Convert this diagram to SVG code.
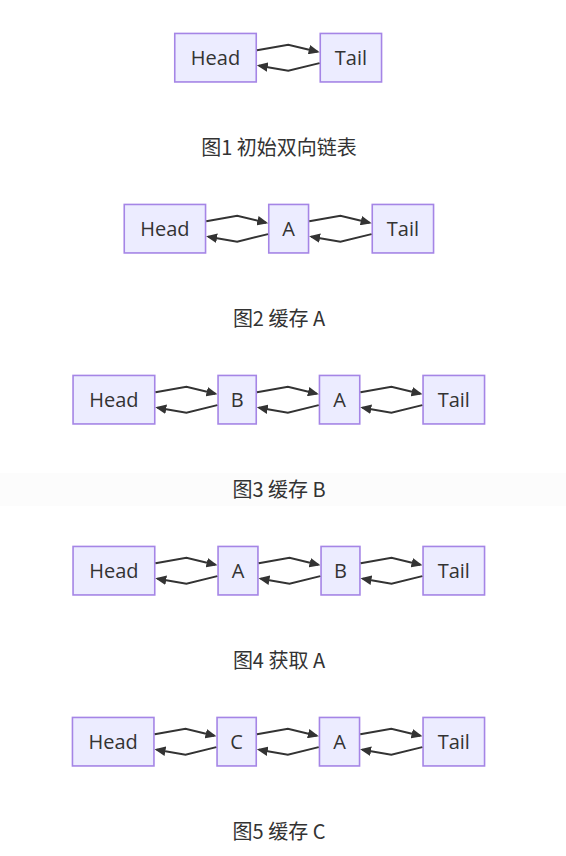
<svg xmlns="http://www.w3.org/2000/svg" width="566" height="856" viewBox="0 0 566 856">
<style>
.node rect{fill:#ECECFF;stroke:#a585e6;stroke-width:1.6}
.node text{font-family:"Open Sans","Noto Sans",sans-serif;font-size:20px;fill:#333;text-anchor:middle}
.edges path{fill:none;stroke:#333;stroke-width:2;marker-end:url(#ah)}
.cap{font-family:"Noto Sans CJK SC","Noto Sans",sans-serif;font-size:20px;fill:#333;text-anchor:middle}
</style>
<defs>
<marker id="ah" viewBox="0 0 10 10" refX="8" refY="5" markerWidth="11" markerHeight="9.5" markerUnits="userSpaceOnUse" orient="auto" preserveAspectRatio="none"><path d="M0,0 L10,5 L0,10 z" fill="#333"/></marker>
</defs>
<rect x="0" y="473" width="566" height="33" fill="#fcfcfc"/>

<!-- Diagram 1 -->
<g id="d1-head" class="node"><rect x="174.75" y="33.45" width="81.5" height="48.5"/><text x="215.5" y="64.7">Head</text></g>
<g id="d1-tail" class="node"><rect x="320.25" y="33.45" width="61.3" height="48.5"/><text x="350.9" y="64.7">Tail</text></g>
<g id="d1-edges" class="edges">
<path d="M257,50.3 L288.25,44.7 L317.5,51.8"/>
<path d="M319.5,63.1 L288.25,70.7 L259,65.7"/>
</g>
<text class="cap" x="279" y="155">图1 初始双向链表</text>

<!-- Diagram 2 -->
<g id="d2-head" class="node"><rect x="124.25" y="204.45" width="81.3" height="48.5"/><text x="164.9" y="235.7">Head</text></g>
<g id="d2-a" class="node"><rect x="268.75" y="204.45" width="39.8" height="48.5"/><text x="288.65" y="235.7">A</text></g>
<g id="d2-tail" class="node"><rect x="372.25" y="204.45" width="61.3" height="48.5"/><text x="402.9" y="235.7">Tail</text></g>
<g id="d2-edges" class="edges">
<path d="M206.3,221.3 L237.2,215.7 L266,222.8"/>
<path d="M268,234.1 L237.2,241.7 L208.3,236.7"/>
<path d="M309.3,221.3 L340.4,215.7 L369.5,222.8"/>
<path d="M371.5,234.1 L340.4,241.7 L311.3,236.7"/>
</g>
<text class="cap" x="279" y="326">图2 缓存 A</text>

<!-- Diagram 3 -->
<g id="d3-head" class="node"><rect x="73.05" y="375.45" width="81.7" height="48.5"/><text x="113.9" y="406.7">Head</text></g>
<g id="d3-b" class="node"><rect x="218.05" y="375.45" width="38.2" height="48.5"/><text x="237.15" y="406.7">B</text></g>
<g id="d3-a" class="node"><rect x="319.45" y="375.45" width="40.3" height="48.5"/><text x="339.6" y="406.7">A</text></g>
<g id="d3-tail" class="node"><rect x="423.05" y="375.45" width="61.5" height="48.5"/><text x="453.8" y="406.7">Tail</text></g>
<g id="d3-edges" class="edges">
<path d="M155.5,392.3 L186.4,386.7 L215.3,393.8"/>
<path d="M217.3,405.1 L186.4,412.7 L157.5,407.7"/>
<path d="M257,392.3 L287.9,386.7 L316.7,393.8"/>
<path d="M318.7,405.1 L287.9,412.7 L259,407.7"/>
<path d="M360.5,392.3 L391.4,386.7 L420.3,393.8"/>
<path d="M422.3,405.1 L391.4,412.7 L362.5,407.7"/>
</g>
<text class="cap" x="279" y="497">图3 缓存 B</text>

<!-- Diagram 4 -->
<g id="d4-head" class="node"><rect x="73.05" y="546.45" width="81.7" height="48.5"/><text x="113.9" y="577.7">Head</text></g>
<g id="d4-a" class="node"><rect x="218.05" y="546.45" width="39.9" height="48.5"/><text x="238" y="577.7">A</text></g>
<g id="d4-b" class="node"><rect x="321.05" y="546.45" width="38.9" height="48.5"/><text x="340.5" y="577.7">B</text></g>
<g id="d4-tail" class="node"><rect x="423.05" y="546.45" width="61.5" height="48.5"/><text x="453.8" y="577.7">Tail</text></g>
<g id="d4-edges" class="edges">
<path d="M155.5,563.3 L186.4,557.7 L215.3,564.8"/>
<path d="M217.3,576.1 L186.4,583.7 L157.5,578.7"/>
<path d="M258.7,563.3 L289.5,557.7 L318.3,564.8"/>
<path d="M320.3,576.1 L289.5,583.7 L260.7,578.7"/>
<path d="M360.7,563.3 L391.5,557.7 L420.3,564.8"/>
<path d="M422.3,576.1 L391.5,583.7 L362.7,578.7"/>
</g>
<text class="cap" x="279" y="668">图4 获取 A</text>

<!-- Diagram 5 -->
<g id="d5-head" class="node"><rect x="72.45" y="717.45" width="81.5" height="48.5"/><text x="113.2" y="748.7">Head</text></g>
<g id="d5-c" class="node"><rect x="217.05" y="717.45" width="39.2" height="48.5"/><text x="236.65" y="748.7">C</text></g>
<g id="d5-a" class="node"><rect x="319.45" y="717.45" width="40.1" height="48.5"/><text x="339.5" y="748.7">A</text></g>
<g id="d5-tail" class="node"><rect x="423.05" y="717.45" width="61.5" height="48.5"/><text x="453.8" y="748.7">Tail</text></g>
<g id="d5-edges" class="edges">
<path d="M154.7,734.3 L185.5,728.7 L214.3,735.8"/>
<path d="M216.3,747.1 L185.5,754.7 L156.7,749.7"/>
<path d="M257,734.3 L287.9,728.7 L316.7,735.8"/>
<path d="M318.7,747.1 L287.9,754.7 L259,749.7"/>
<path d="M360.3,734.3 L391.3,728.7 L420.3,735.8"/>
<path d="M422.3,747.1 L391.3,754.7 L362.3,749.7"/>
</g>
<text class="cap" x="279" y="839">图5 缓存 C</text>
</svg>
